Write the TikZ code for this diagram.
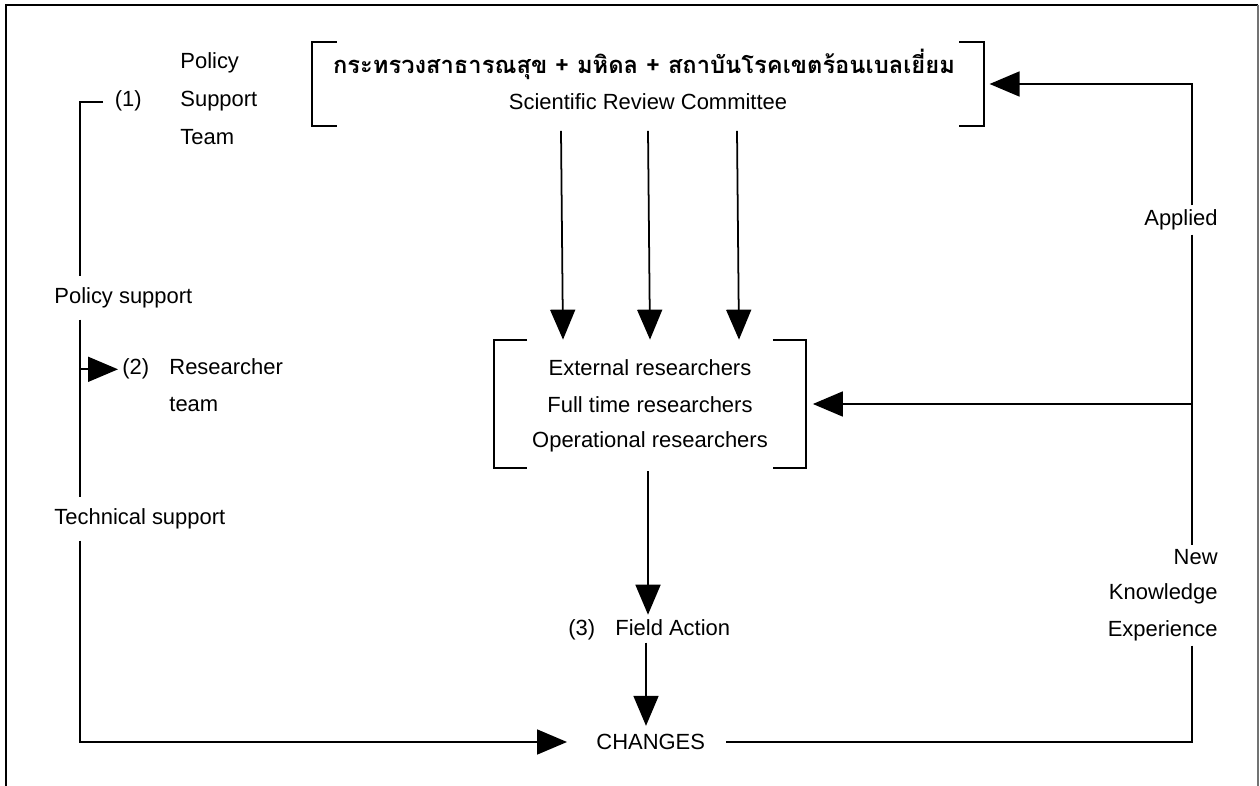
\documentclass[tikz,border=0pt]{standalone}
\usepackage{fontspec}
\setmainfont{Liberation Sans}
\newfontfamily\thaifont[Script=Thai]{Loma}
\usetikzlibrary{arrows.meta,calc}

\tikzset{
  lbl/.style={inner sep=2pt,font=\fontsize{12.5}{15}\selectfont},
  arr/.style={-{Triangle[length=0.6cm,width=0.5cm]}},
  brkbox/.style={inner sep=0pt,minimum width=#1}
}

\begin{document}
\begin{tikzpicture}[x=0.02cm,y=-0.02cm,line width=1pt]
  \useasboundingbox (0,0) rectangle (1260,786);
  % outer frame, open at the bottom
  \draw (6,786) -- (6,5) -- (1258,5);
  \draw[line width=0.6pt,black!55] (1258,5) -- (1258,786);

  % (1) policy support team
  \node[lbl,anchor=base west] (policy)  at (176,69)  {Policy};
  \node[lbl,anchor=base west] (support) at (176,107) {Support};
  \node[lbl,anchor=base west] (team)    at (176,145) {Team};
  \node[lbl,anchor=base east] (one)     at (146,107) {(1)};

  % committee in brackets
  \node[brkbox=13.42cm,minimum height=1.64cm] (cmte) at (648,84) {};
  \node[lbl,font=\thaifont\bfseries\fontsize{13.5}{16}\selectfont] (thai) at (644,64)
    {กระทรวงสาธารณสุข + มหิดล + สถาบันโรคเขตร้อนเบลเยี่ยม};
  \node[lbl] (src) at (648,102) {Scientific Review Committee};
  \draw (cmte.north west) ++(25,0) -- ++(-25,0) -- (cmte.south west) -- ++(25,0);
  \draw (cmte.north east) ++(-25,0) -- ++(25,0) -- (cmte.south east) -- ++(-25,0);

  % researchers in brackets
  \node[brkbox=6.2cm,minimum height=2.54cm] (box) at (650,404) {};
  \node[lbl] (ext)  at (650,368) {External researchers};
  \node[lbl] (full) at (650,405) {Full time researchers};
  \node[lbl] (oper) at (650,442) {Operational researchers};
  \draw (box.north west) ++(33,0) -- ++(-33,0) -- (box.south west) -- ++(33,0);
  \draw (box.north east) ++(-33,0) -- ++(33,0) -- (box.south east) -- ++(-33,0);

  % (2) researcher team
  \node[lbl,anchor=base west] (two)    at (118,375) {(2)};
  \node[lbl,anchor=base west] (resr)   at (165,375) {Researcher};
  \node[lbl,anchor=base west] (rteam)  at (165,412) {team};

  % (3) field action and changes
  \node[lbl,anchor=base west] (three)  at (564,635) {(3)};
  \node[lbl,anchor=base west] (field)  at (611,635) {Field Action};
  \node[lbl,anchor=west] (change) at (592,742) {CHANGES};

  % side labels
  \node[lbl,anchor=west,inner ysep=6pt] (polsup)  at (50,298) {Policy support};
  \node[lbl,anchor=west,inner ysep=6pt] (techsup) at (50,519) {Technical support};
  \node[lbl,anchor=east] (applied) at (1222,220) {Applied};
  \node[lbl,anchor=east] (new)     at (1222,557) {New};
  \node[lbl,anchor=east] (know)    at (1222,594) {Knowledge};
  \node[lbl,anchor=east] (exper)   at (1222,631) {Experience};

  \coordinate (lx) at (80,0);
  \coordinate (rx) at (1192,0);
  \coordinate (hook) at (103,102);

  % committee -> researchers
  \foreach \dx in {-87,0,89}
    \draw[arr] ($(cmte.south)+(\dx,5)$) -- ($(box.north)+(\dx,0)$);

  % researchers -> field action -> changes
  \draw[arr] ($(box.south -| 648,0)+(0,3)$) -- (field.north -| 648,0);
  \draw[arr] ($(field.south -| 646,0)+(0,3)$) -- ($(change.north -| 646,0)+(0,-4)$);

  % left side
  \draw (hook) -- (lx |- hook) -- (lx |- polsup.north);
  \draw (lx |- polsup.south) -- (lx |- techsup.north);
  \draw[arr] (lx |- two.west) -- (two.west);
  \draw[arr,shorten >=0.5cm] (lx |- techsup.south) |- (change.west);

  % right side
  \draw[arr,shorten >=3pt] (rx |- applied.north) |- (cmte.east);
  \draw (rx |- applied.south) -- (rx |- new.north);
  \draw[arr,shorten >=4pt] (rx |- box.east) -- (box.east);
  \draw[shorten >=0.33cm] (rx |- exper.south) |- (change.east);
\end{tikzpicture}
\end{document}
